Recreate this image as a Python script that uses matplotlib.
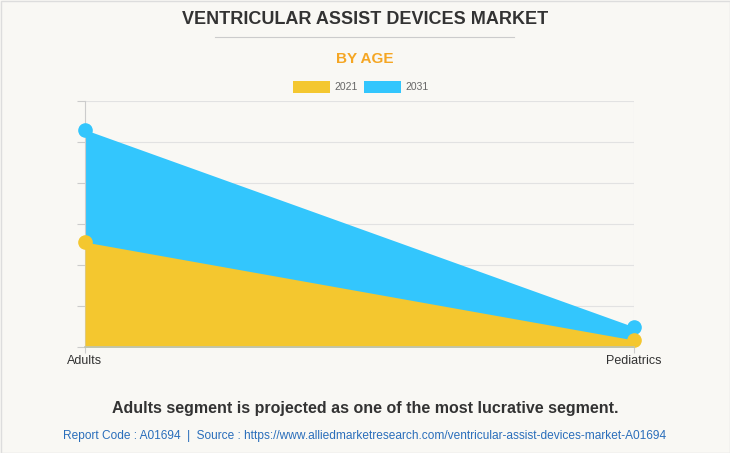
import matplotlib.pyplot as plt
from matplotlib.patches import Rectangle

categories = ["Adults", "Pediatrics"]
years = ["2021", "2031"]
values_2021 = [1280, 85]
values_2031 = [2650, 245]
y_max = 3000
y_step = 500

yellow = "#F4C72F"
blue = "#33C6FD"
bg = "#F9F8F4"

plt.rcParams['font.family'] = ['Liberation Sans', 'DejaVu Sans']

fig = plt.figure(figsize=(7.3, 4.53), dpi=100, facecolor=bg)
ax = fig.add_axes([85 / 730, 1 - 347 / 453, 549 / 730, 246 / 453], facecolor=bg)

xs = list(range(len(categories)))
ax.fill_between(xs, 0, values_2031, color=blue, linewidth=0, zorder=2)
ax.fill_between(xs, 0, values_2021, color=yellow, linewidth=0, zorder=3)
ax.plot(xs, values_2031, color=blue, lw=0, marker="o", ms=9.5, clip_on=False, zorder=4)
ax.plot(xs, values_2021, color=yellow, lw=0, marker="o", ms=9.5, clip_on=False, zorder=5)

ax.set_xlim(0, len(categories) - 1)
ax.set_ylim(0, y_max)
ax.set_yticks(range(0, y_max + 1, y_step))
ax.set_yticklabels([])
ax.set_xticks(xs)
ax.set_xticklabels(categories, fontsize=9, color="#333333")
ax.grid(axis="y", color="#E2E2E2", lw=0.8, zorder=0)
ax.tick_params(axis="y", length=6, color="#CCCCCC", width=0.8)
ax.tick_params(axis="x", length=4, color="#CCCCCC", width=0.8, pad=2)
for side in ["top", "right"]:
    ax.spines[side].set_visible(False)
ax.spines["left"].set_color("#CCCCCC")
ax.spines["left"].set_linewidth(0.8)
ax.spines["bottom"].set_color("#BFC4B5")
ax.spines["bottom"].set_linewidth(1.2)
ax.spines["bottom"].set_zorder(6)
ax.axvline(len(categories) - 1, color="#E2E2E2", lw=0.8, zorder=1)

# titles
fig.text(0.5, 1 - 20 / 453, "VENTRICULAR ASSIST DEVICES MARKET", ha="center", va="center",
         fontsize=13, fontweight="bold", color="#333333")
fig.add_artist(plt.Line2D([215 / 730, 514 / 730], [1 - 37 / 453] * 2, color="#CCCCCC", lw=0.8))
fig.text(0.5, 1 - 59 / 453, "BY AGE", ha="center", va="center", fontsize=11,
         fontweight="bold", color="#F5A623")

# legend
for x0, c, lab in [(293, yellow, years[0]), (364, blue, years[1])]:
    fig.add_artist(Rectangle((x0 / 730, 1 - 93 / 453), 37 / 730, 12 / 453,
                             facecolor=c, edgecolor="none", transform=fig.transFigure))
    fig.text((x0 + 41) / 730, 1 - 87 / 453, lab, ha="left", va="center", fontsize=7.5,
             color="#666666")

fig.text(0.5, 1 - 408 / 453, "Adults segment is projected as one of the most lucrative segment.",
         ha="center", va="center", fontsize=11.5, fontweight="bold", color="#333333")
fig.text(0.5, 1 - 436 / 453,
         "Report Code : A01694  |  Source : https://www.alliedmarketresearch.com/ventricular-assist-devices-market-A01694",
         ha="center", va="center", fontsize=8.6, color="#2A6EBB")

fig.add_artist(Rectangle((0.5 / 730, 0.5 / 453), 729 / 730, 452 / 453, fill=False,
                         edgecolor="#DDDDDD", lw=1, transform=fig.transFigure))

fig.savefig("out.png", dpi=100, facecolor=bg)
